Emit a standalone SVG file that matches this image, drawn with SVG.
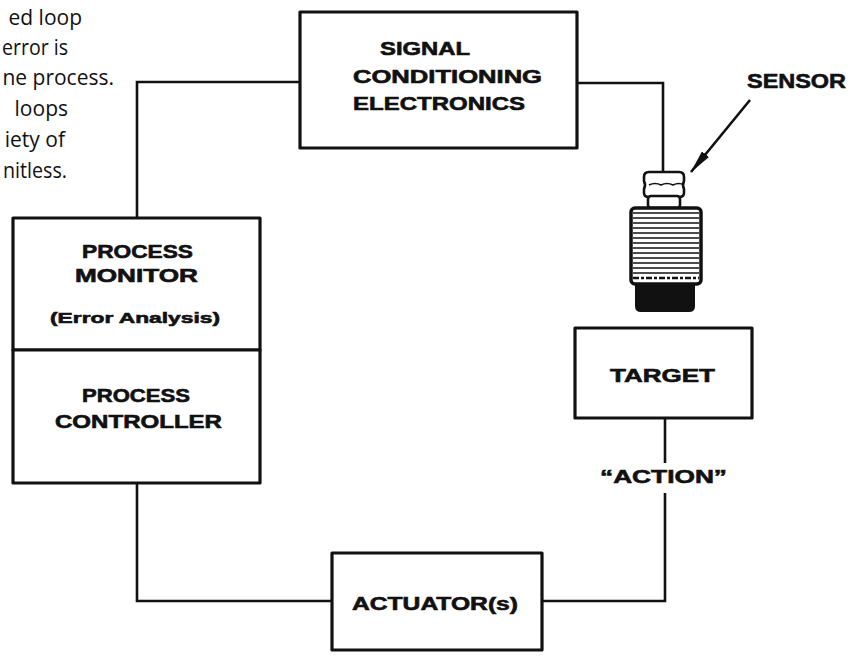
<svg xmlns="http://www.w3.org/2000/svg" width="848" height="656" viewBox="0 0 848 656">
  <style>
    .box { fill: #fff; stroke: #111; stroke-width: 3.2; stroke-linejoin: round; }
    .wire { fill: none; stroke: #111; stroke-width: 2.6; }
    .lbl { font-family: "Liberation Sans", Arial, sans-serif; font-weight: bold; fill: #111; stroke: #111; stroke-width: 0.6; }
    .note { font-family: "Open Sans", "Liberation Sans", sans-serif; font-size: 21px; fill: #111; text-anchor: end; }
    .thread { stroke: #111; stroke-width: 1.6; }
  </style>
  <defs>
    <marker id="dart" viewBox="0 0 24 10" refX="23" refY="5" markerWidth="24" markerHeight="10" markerUnits="userSpaceOnUse" orient="auto">
      <path d="M0,0.5 L24,5 L0,9.5 Z" fill="#111"/>
    </marker>
  </defs>

  <rect width="848" height="656" fill="#fff"/>

  <!-- explanatory text running off the left edge -->
  <g id="note">
    <text class="note" x="82" y="25">ed loop</text>
    <text class="note" x="68" y="55" textLength="66" lengthAdjust="spacingAndGlyphs">error is</text>
    <text class="note" x="114" y="85">ne process.</text>
    <text class="note" x="68" y="116">loops</text>
    <text class="note" x="65" y="147">iety of</text>
    <text class="note" x="67" y="178" textLength="64" lengthAdjust="spacingAndGlyphs">nitless.</text>
  </g>

  <!-- loop wiring -->
  <g id="connectors">
    <path class="wire" d="M300,82 H137 V218"/>
    <path class="wire" d="M577,83 H663 V173"/>
    <path class="wire" d="M137,483 V601 H332"/>
    <path class="wire" d="M542,601 H665 V493"/>
    <path class="wire" d="M665,463 V418"/>
    <line class="wire" x1="750" y1="100" x2="691" y2="172" marker-end="url(#dart)"/>
  </g>

  <g id="signal-conditioning">
    <rect class="box" x="300" y="12" width="277" height="136"/>
    <text class="lbl" x="380" y="55" font-size="18" textLength="90" lengthAdjust="spacingAndGlyphs">SIGNAL</text>
    <text class="lbl" x="353" y="83" font-size="18" textLength="189" lengthAdjust="spacingAndGlyphs">CONDITIONING</text>
    <text class="lbl" x="353" y="110" font-size="18" textLength="172" lengthAdjust="spacingAndGlyphs">ELECTRONICS</text>
  </g>

  <g id="process-monitor">
    <rect class="box" x="13" y="218" width="247" height="132"/>
    <text class="lbl" x="82" y="258" font-size="18" textLength="111" lengthAdjust="spacingAndGlyphs">PROCESS</text>
    <text class="lbl" x="75" y="282" font-size="18" textLength="123" lengthAdjust="spacingAndGlyphs">MONITOR</text>
    <text class="lbl" x="50" y="323" font-size="15.5" textLength="170" lengthAdjust="spacingAndGlyphs">(Error Analysis)</text>
  </g>

  <g id="process-controller">
    <rect class="box" x="13" y="350" width="247" height="133"/>
    <text class="lbl" x="82" y="402" font-size="18" textLength="108" lengthAdjust="spacingAndGlyphs">PROCESS</text>
    <text class="lbl" x="55" y="428" font-size="18" textLength="167" lengthAdjust="spacingAndGlyphs">CONTROLLER</text>
  </g>

  <g id="actuator">
    <rect class="box" x="332" y="553" width="210" height="97"/>
    <text class="lbl" x="352" y="610" font-size="18" textLength="166" lengthAdjust="spacingAndGlyphs">ACTUATOR(s)</text>
  </g>

  <g id="target">
    <rect class="box" x="575" y="328" width="177" height="90"/>
    <text class="lbl" x="610" y="382" font-size="19" textLength="105" lengthAdjust="spacingAndGlyphs">TARGET</text>
  </g>

  <g id="action-label">
    <text class="lbl" x="600" y="483" font-size="19" textLength="127" lengthAdjust="spacingAndGlyphs">“ACTION”</text>
  </g>

  <g id="sensor">
    <text class="lbl" x="747" y="88" font-size="20" textLength="99" lengthAdjust="spacingAndGlyphs">SENSOR</text>
    <!-- hex nut -->
    <path d="M649,172 H679 Q684,172 684,177 V181 Q682,185 684,189 V193 Q684,197 679,197 H649 Q644,197 644,193 V189 Q646,185 644,181 V177 Q644,172 649,172 Z" fill="#fff" stroke="#111" stroke-width="2.6"/>
    <path d="M649,185 Q655,182 661,185 Q667,182 673,185 Q679,182 684,185" fill="none" stroke="#111" stroke-width="1.5"/>
    <!-- collar -->
    <rect x="648" y="196" width="32" height="12" rx="3" fill="#fff" stroke="#111" stroke-width="2.6"/>
    <!-- black base -->
    <path d="M635,280 H695 V306 Q695,312 689,312 H641 Q635,312 635,306 Z" fill="#111"/>
    <!-- threaded body -->
    <rect x="631" y="208" width="70" height="76" rx="4" fill="#fff" stroke="#111" stroke-width="3.5"/>
    <g class="thread">
      <line x1="633" y1="213" x2="699" y2="213"/>
      <line x1="633" y1="218" x2="699" y2="218"/>
      <line x1="633" y1="223" x2="699" y2="223"/>
      <line x1="633" y1="228" x2="699" y2="228"/>
      <line x1="633" y1="233" x2="699" y2="233"/>
      <line x1="633" y1="238" x2="699" y2="238"/>
      <line x1="633" y1="243" x2="699" y2="243"/>
      <line x1="633" y1="248" x2="699" y2="248"/>
      <line x1="633" y1="253" x2="699" y2="253"/>
      <line x1="633" y1="258" x2="699" y2="258"/>
      <line x1="633" y1="263" x2="699" y2="263"/>
      <line x1="633" y1="268" x2="699" y2="268"/>
      <line x1="633" y1="273" x2="699" y2="273"/>
    </g>
    <line x1="633" y1="278" x2="699" y2="278" stroke="#111" stroke-width="2.5" stroke-dasharray="6 2 3 2"/>
  </g>
</svg>
